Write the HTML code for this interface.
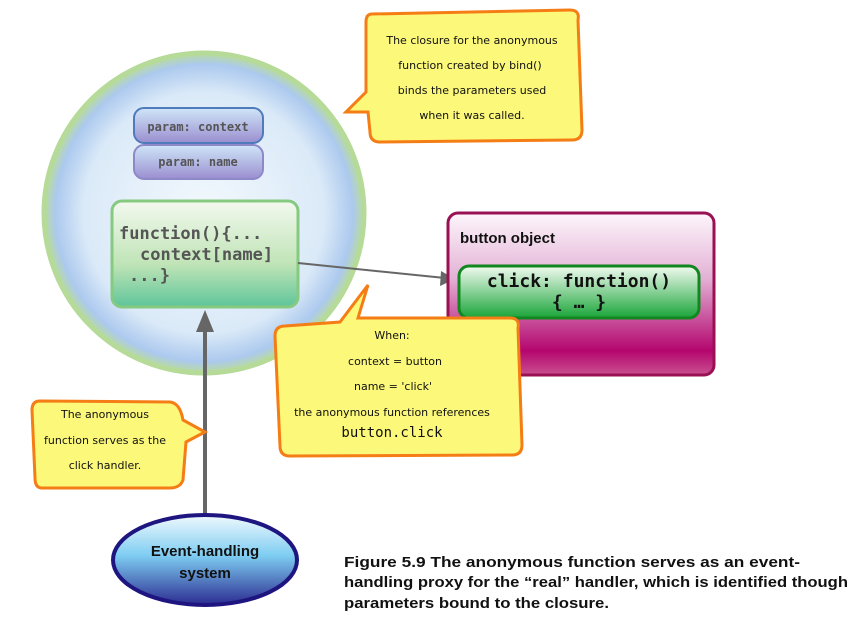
<!DOCTYPE html>
<html><head><meta charset="utf-8"><style>
body{margin:0;background:#fff;width:862px;height:631px;overflow:hidden}
.h{font-family:"Comic Sans MS","DejaVu Sans",sans-serif;font-size:11px;fill:#111}
.m{font-family:"DejaVu Sans Mono","Liberation Mono",monospace;font-weight:bold}
.cap{font-family:"Liberation Sans",sans-serif;font-weight:bold;font-size:15px;fill:#111}
</style></head><body>
<svg width="862" height="631" viewBox="0 0 862 631" xmlns="http://www.w3.org/2000/svg">
<defs>
<radialGradient id="sph" cx="50%" cy="50%" r="50%">
<stop offset="0" stop-color="#f2f8fd"/><stop offset="0.75" stop-color="#dbeaf8"/><stop offset="0.93" stop-color="#acc9ee"/><stop offset="1" stop-color="#b9dc9c"/></radialGradient>
<linearGradient id="par" x1="0" y1="0" x2="0" y2="1"><stop offset="0" stop-color="#cfe6f8"/><stop offset="1" stop-color="#9a8ed0"/></linearGradient>
<linearGradient id="fn" x1="0" y1="0" x2="0" y2="1"><stop offset="0" stop-color="#f3f9ef"/><stop offset="0.6" stop-color="#bfe4b6"/><stop offset="1" stop-color="#5ec59a"/></linearGradient>
<linearGradient id="btn" x1="0" y1="0" x2="0" y2="1"><stop offset="0" stop-color="#fdf6fb"/><stop offset="0.4" stop-color="#e3b2d6"/><stop offset="0.85" stop-color="#b4066e"/><stop offset="1" stop-color="#c9508f"/></linearGradient>
<linearGradient id="clk" x1="0" y1="0" x2="0" y2="1"><stop offset="0" stop-color="#f2fbf0"/><stop offset="1" stop-color="#1aa539"/></linearGradient>
<linearGradient id="ev" x1="0" y1="0" x2="0" y2="1"><stop offset="0" stop-color="#f0f9fd"/><stop offset="0.45" stop-color="#7ecdf2"/><stop offset="1" stop-color="#2b2b90"/></linearGradient>
</defs>
<circle cx="204" cy="213" r="160" fill="url(#sph)" stroke="#b6da98" stroke-width="5"/>
<rect x="134" y="108" width="129" height="35" rx="10" fill="url(#par)" stroke="#4f7bbd" stroke-width="2"/>
<text x="198" y="131" text-anchor="middle" class="m" font-size="12" fill="#555">param: context</text>
<rect x="134" y="145" width="129" height="34" rx="10" fill="url(#par)" stroke="#8f88c8" stroke-width="2"/>
<text x="198" y="166" text-anchor="middle" class="m" font-size="12" fill="#555">param: name</text>
<rect x="112" y="201" width="186" height="106" rx="10" fill="url(#fn)" stroke="#86c980" stroke-width="3"/>
<text class="m" font-size="17" fill="#555"><tspan x="119" y="239">function(){...</tspan><tspan x="140" y="260">context[name]</tspan><tspan x="129" y="281">...}</tspan></text>
<path d="M298 263 L445 278" stroke="#666" stroke-width="2"/>
<path d="M455 279 L441 271 L440 286 Z" fill="#666"/>
<rect x="448" y="213" width="266" height="162" rx="10" fill="url(#btn)" stroke="#9a1153" stroke-width="3"/>
<text x="460" y="243" class="cap" font-size="15">button object</text>
<rect x="459" y="266" width="240" height="52" rx="10" fill="url(#clk)" stroke="#12861f" stroke-width="3"/>
<text class="m" font-size="18" fill="#111" text-anchor="middle"><tspan x="579" y="287">click: function()</tspan><tspan x="579" y="308">{ … }</tspan></text>
<path d="M205 513 L205 330" stroke="#666" stroke-width="4"/>
<path d="M205 310 L196 332 L214 332 Z" fill="#666"/>
<path d="M372 14 L570 10 Q580 10 578 20 L582 130 Q582 140 572 140 L380 142 Q370 142 370 132 L368 112 L346 112 L366 92 L366 22 Q366 14 372 14 Z" fill="#fcf87a" stroke="#f57d16" stroke-width="3"/>
<text class="h" text-anchor="middle"><tspan x="472" y="44">The closure for the anonymous</tspan><tspan x="470" y="69">function created by bind()</tspan><tspan x="472" y="94">binds the parameters used</tspan><tspan x="472" y="119">when it was called.</tspan></text>
<path d="M285 326 L340 322 L368 285 L358 318 L510 318 Q520 318 518 328 L522 445 Q522 455 512 455 L290 456 Q280 456 280 446 L275 336 Q275 326 285 326 Z" fill="#fcf87a" stroke="#f57d16" stroke-width="3"/>
<text class="h" text-anchor="middle"><tspan x="392" y="339">When:</tspan><tspan x="395" y="365">context = button</tspan><tspan x="393" y="390">name = 'click'</tspan><tspan x="392" y="416">the anonymous function references</tspan></text>
<text x="392" y="437" text-anchor="middle" font-family="'DejaVu Sans Mono',monospace" font-size="14" fill="#111">button.click</text>
<path d="M40 401 L170 402 Q180 403 183 420 L205 432 L186 442 L183 480 Q180 488 170 488 L42 488 Q35 488 35 478 L32 410 Q32 401 40 401 Z" fill="#fcf87a" stroke="#f57d16" stroke-width="3"/>
<text class="h" text-anchor="middle"><tspan x="105" y="418">The anonymous</tspan><tspan x="105" y="444">function serves as the</tspan><tspan x="105" y="469">click handler.</tspan></text>
<ellipse cx="205" cy="560" rx="92" ry="45" fill="url(#ev)" stroke="#1f1580" stroke-width="4"/>
<text x="205" y="556" text-anchor="middle" class="cap" font-size="16">Event-handling</text>
<text x="205" y="578" text-anchor="middle" class="cap" font-size="16">system</text>
<text class="cap" font-size="16" x="344" y="567" textLength="456" lengthAdjust="spacingAndGlyphs">Figure 5.9   The anonymous function serves as an event-</text>
<text class="cap" font-size="16" x="344" y="587" textLength="504" lengthAdjust="spacingAndGlyphs">handling proxy for the “real” handler, which is identified though</text>
<text class="cap" font-size="16" x="344" y="608" textLength="265" lengthAdjust="spacingAndGlyphs">parameters bound to the closure.</text>
</svg>
</body></html>
